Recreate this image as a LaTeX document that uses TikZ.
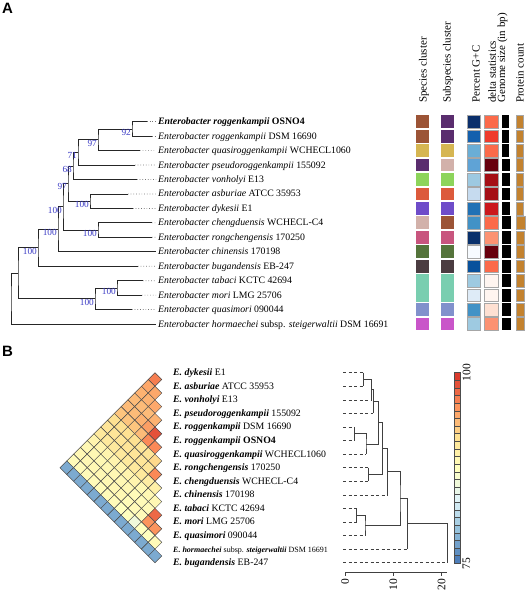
\documentclass[tikz,border=0pt]{standalone}
\usepackage{fontspec}
\setmainfont{Liberation Serif}
\newfontfamily\panelfont{Liberation Sans}
\usepackage{xcolor}
\usepackage{tikz}
\usetikzlibrary{calc}
\definecolor{bootBlue}{HTML}{3A3AC4}
\definecolor{cBrown}{HTML}{9C5436}
\definecolor{cPurple}{HTML}{5A2D6E}
\definecolor{cGold}{HTML}{D6B652}
\definecolor{cPink}{HTML}{D2B1AA}
\definecolor{cGreen}{HTML}{8DD45B}
\definecolor{cOrange}{HTML}{DC5A3C}
\definecolor{cViolet}{HTML}{6E4CC9}
\definecolor{cRose}{HTML}{C8557E}
\definecolor{cOlive}{HTML}{55743B}
\definecolor{cDark}{HTML}{4B3C41}
\definecolor{cTeal}{HTML}{79CEB0}
\definecolor{cLav}{HTML}{8191CC}
\definecolor{cMag}{HTML}{C955C9}
\definecolor{protBar}{HTML}{C3822F}
% heat palette (blue -> red)
\definecolor{hm0}{HTML}{4575B4}
\definecolor{hm1}{HTML}{91BFDB}
\definecolor{hm2}{HTML}{E0F3F8}
\definecolor{hm3}{HTML}{FFFFBF}
\definecolor{hm4}{HTML}{FEE090}
\definecolor{hm5}{HTML}{FC8D59}
\definecolor{hm6}{HTML}{D73027}
\newcommand{\setheat}[1]{%
  \pgfmathsetmacro\heatt{(#1-75)*6/25}%
  \pgfmathtruncatemacro\heatk{min(5,floor(\heatt))}%
  \pgfmathtruncatemacro\heatp{round((\heatt-\heatk)*100)}%
  \pgfmathtruncatemacro\heatn{\heatk+1}%
  \colorlet{heatc}{hm\heatn!\heatp!hm\heatk}}

\begin{document}
\begin{tikzpicture}[
    x=1pt, y=-1pt,
    every node/.style={font=\fontsize{9.8}{11}\selectfont, inner sep=0pt},
    tiplab/.style={anchor=west, text height=7pt, text depth=1pt},
    branch/.style={draw=black!85, line width=0.8pt},
    leader/.style={draw=black!55, dotted, line width=0.7pt},
    boot/.style={anchor=north east, text=bootBlue, xshift=-1pt,
        font=\fontsize{9.3}{10}\selectfont},
    colhead/.style={rotate=90, anchor=west, font=\fontsize{11}{12}\selectfont},
    tile/.style={draw=black!35, line width=0.4pt},
    cell/.style={draw=black!70, line width=0.45pt},
    dendro/.style={draw=black!75, line width=0.7pt},
    leafdash/.style={draw=black!75, dash pattern=on 3pt off 2.5pt, line width=0.6pt},
    axlab/.style={rotate=90, font=\fontsize{11.5}{12}\selectfont},
    panel/.style={anchor=north west, font=\panelfont\bfseries\fontsize{15}{16}\selectfont}
]
\useasboundingbox (0,0) rectangle (526,600);

\node[panel] (lblA) at (2,3) {A};
\node[panel] (lblB) at (2,346) {B};

%% panel A: tree
\foreach \k/\tx in {1/147,2/152,3/140,4/135,5/137,6/128,7/133,8/152,
    9/152,10/156,11/138,12/143,13/142,14/132,15/156}
    \coordinate (t\k) at (\tx,{121.7+(\k-1)*14.45});

\coordinate (n92) at (132,128.9);
\coordinate (n97a) at (98,139.75);
\coordinate (n71) at (78,152.4);
\coordinate (n68) at (73,165.95);
\coordinate (nAD) at (90,201.2);
\coordinate (n97b) at (68,183.6);
\coordinate (nCR) at (98,230.1);
\coordinate (nP) at (63,206.8);
\coordinate (nQ) at (58,229.3);
\coordinate (nS) at (38,247.75);
\coordinate (nTM) at (117,287.9);
\coordinate (nTQ) at (95,298.7);
\coordinate (nT) at (18,273.2);
\coordinate (nR) at (11,298.6);

\draw[branch] (t1) -| (n92) |- (t2);
\draw[branch] (n92) -| (n97a) |- (t3);
\draw[branch] (n97a) -| (n71) |- (t4);
\draw[branch] (n71) -| (n68) |- (t5);
\draw[branch] (t6) -| (nAD) |- (t7);
\draw[branch] (n68) -| (n97b) |- (nAD);
\draw[branch] (t8) -| (nCR) |- (t9);
\draw[branch] (n97b) -| (nP) |- (nCR);
\draw[branch] (nP) -| (nQ) |- (t10);
\draw[branch] (nQ) -| (nS) |- (t11);
\draw[branch] (t12) -| (nTM) |- (t13);
\draw[branch] (nTM) -| (nTQ) |- (t14);
\draw[branch] (nS) -| (nT) |- (nTQ);
\draw[branch] (nT) -| (nR) |- (t15);

\node[boot] (bs1) at (n92) {92};
\node[boot] (bs2) at (n97a) {97};
\node[boot] (bs3) at (n71) {71};
\node[boot] (bs4) at (n68) {68};
\node[boot] (bs5) at (n97b) {97};
\node[boot] (bs6) at (nAD) {100};
\node[boot] (bs7) at (nP) {100};
\node[boot] (bs8) at (nCR) {100};
\node[boot] (bs9) at (nQ) {100};
\node[boot] (bs10) at (nS) {100};
\node[boot] (bs11) at (nTM) {100};
\node[boot] (bs12) at (nTQ) {100};

\node[tiplab] (a1) at (158,121.7) {\textbf{\textit{Enterobacter roggenkampii} OSNO4}};
\node[tiplab] (a2) at (158,136.15) {\textit{Enterobacter roggenkampii} DSM 16690};
\node[tiplab] (a3) at (158,150.6) {\textit{Enterobacter quasiroggenkampii} WCHECL1060};
\node[tiplab] (a4) at (158,165.05) {\textit{Enterobacter pseudoroggenkampii} 155092};
\node[tiplab] (a5) at (158,179.5) {\textit{Enterobacter vonholyi} E13};
\node[tiplab] (a6) at (158,193.95) {\textit{Enterobacter asburiae} ATCC 35953};
\node[tiplab] (a7) at (158,208.4) {\textit{Enterobacter dykesii} E1};
\node[tiplab] (a8) at (158,222.85) {\textit{Enterobacter chengduensis} WCHECL-C4};
\node[tiplab] (a9) at (158,237.3) {\textit{Enterobacter rongchengensis} 170250};
\node[tiplab] (a10) at (158,251.75) {\textit{Enterobacter chinensis} 170198};
\node[tiplab] (a11) at (158,266.2) {\textit{Enterobacter bugandensis} EB-247};
\node[tiplab] (a12) at (158,280.65) {\textit{Enterobacter tabaci} KCTC 42694};
\node[tiplab] (a13) at (158,295.1) {\textit{Enterobacter mori} LMG 25706};
\node[tiplab] (a14) at (158,309.55) {\textit{Enterobacter quasimori} 090044};
\node[tiplab] (a15) at (158,324) {\textit{Enterobacter hormaechei} subsp. \textit{steigerwaltii} DSM 16691};

\foreach \k in {1,...,9,11,12,13,14}
    \draw[leader] (t\k) -- ([xshift=-2pt]a\k.west);

%% panel A: annotation columns
\node[colhead] (h1) at (424,103) {Species cluster};
\node[colhead] (h2) at (448,103) {Subspecies cluster};
\node[colhead] (h3) at (476,103) {Percent G+C};
\node[colhead] (h4) at (492,103) {delta statistics};
\node[colhead] (h5) at (502.5,103) {Genome size (in bp)};
\node[colhead] (h6) at (520,103) {Protein count};

\foreach \k/\ca/\cb/\gc/\dl/\we/\wf in {
    1/cBrown/cPurple/0B2F6B/FB6A4A/7.2/7.5,
    2/cBrown/cPurple/1460AD/EF3B2C/7.2/7.5,
    3/cGold/cGold/6AAED6/FB6A4A/7.2/7.5,
    4/cPurple/cPink/5FA3D6/67000D/7.5/7.5,
    5/cGreen/cGreen/9DC9E1/A50F15/7.5/7.3,
    6/cOrange/cOrange/C6DBEF/A50F15/7.5/7.5,
    7/cViolet/cViolet/2171B5/CB181D/7.5/7.0,
    8/cPink/cBrown/4292C6/FB6A4A/9.0/9.5,
    9/cRose/cRose/08306B/FC9272/8.5/8.5,
    10/cOlive/cOlive/F7FBFF/67000D/8.5/8.5,
    11/cDark/cDark/08519C/FB6A4A/8.5/8.5,
    12/cTeal/cTeal/9ECAE1/FFF5F0/8.5/8.5,
    13/cTeal/cTeal/DEEBF7/FFF5F0/8.5/8.5,
    14/cLav/cLav/4292C6/FEE0D2/8.5/8.5,
    15/cMag/cMag/9ECAE1/FC9272/8.5/8.5}{
    \pgfmathsetmacro\yy{121.7+(\k-1)*14.45}
    \definecolor{tmpgc}{HTML}{\gc}
    \definecolor{tmpdl}{HTML}{\dl}
    \fill[\ca] (415.7,{\yy-6.4}) rectangle (429,{\yy+6.4});
    \fill[\cb] (441,{\yy-6.4}) rectangle (454.3,{\yy+6.4});
    \filldraw[tile, fill=tmpgc] (467.3,{\yy-6.4}) rectangle (480,{\yy+6.4});
    \filldraw[tile, fill=tmpdl] (484.3,{\yy-6.4}) rectangle (497.7,{\yy+6.4});
    \fill[black] (502,{\yy-6.4}) rectangle ({502+\we},{\yy+6.4});
    \filldraw[tile, fill=protBar] (515.7,{\yy-6.4}) rectangle ({515.7+\wf},{\yy+6.4});
}
\fill[cTeal] (415.7,286) rectangle (429,290);
\fill[cTeal] (441,286) rectangle (454.3,290);

%% panel B: heatmap
\foreach \row [count=\i] in {
    {96.5,94.5,94,93.5,93.5,93,91.5,91,90.5,89,88.5,88.5,88,78},
    {94.5,94,93.5,93.5,93,91.5,91,90.5,89,88.5,88.5,88,78},
    {94.5,93.5,94,93,91.5,91,90.5,89,88.5,88.5,88,78},
    {94,95,93.5,91.5,91,90.5,89,88.5,88.5,88,78},
    {98.5,96,91,91,90.5,89,88.5,88.5,88,78},
    {96,91,91,90.5,89,88.5,88.5,88,78},
    {92,91,90.5,89,88.5,88.5,88,78},
    {96,90,88.5,88,88,87.5,78},
    {89.5,88.5,88,88,87.5,78},
    {88.5,88,88,85.5,78},
    {97.5,95.5,87.5,78},
    {95.5,87.5,78},
    {88,78},
    {78}}{
    \foreach \v [count=\jj] in \row {
        \setheat{\v}
        \pgfmathsetmacro\cx{155-(\jj-1)*6.785}
        \pgfmathsetmacro\cy{372.7+(2*\i+\jj-2)*6.785}
        \filldraw[cell, fill=heatc] ({\cx-6.785},\cy) -- (\cx,{\cy-6.785})
            -- ({\cx+6.785},\cy) -- (\cx,{\cy+6.785}) -- cycle;
    }
}

\node[tiplab] (b1) at (173,372.7) {\textbf{\textit{E. dykesii}} E1};
\node[tiplab] (b2) at (173,386.27) {\textbf{\textit{E. asburiae}} ATCC 35953};
\node[tiplab] (b3) at (173,399.84) {\textbf{\textit{E. vonholyi}} E13};
\node[tiplab] (b4) at (173,413.41) {\textbf{\textit{E. pseudoroggenkampii}} 155092};
\node[tiplab] (b5) at (173,426.98) {\textbf{\textit{E. roggenkampii}} DSM 16690};
\node[tiplab] (b6) at (173,440.55) {\textbf{\textit{E. roggenkampii} OSNO4}};
\node[tiplab] (b7) at (173,454.12) {\textbf{\textit{E. quasiroggenkampii}} WCHECL1060};
\node[tiplab] (b8) at (173,467.69) {\textbf{\textit{E. rongchengensis}} 170250};
\node[tiplab] (b9) at (173,481.26) {\textbf{\textit{E. chengduensis}} WCHECL-C4};
\node[tiplab] (b10) at (173,494.83) {\textbf{\textit{E. chinensis}} 170198};
\node[tiplab] (b11) at (173,508.4) {\textbf{\textit{E. tabaci}} KCTC 42694};
\node[tiplab] (b12) at (173,521.97) {\textbf{\textit{E. mori}} LMG 25706};
\node[tiplab] (b13) at (173,535.54) {\textbf{\textit{E. quasimori}} 090044};
\node[tiplab, font=\fontsize{8}{9}\selectfont] (b14) at (173,549.11)
    {\textbf{\textit{E. hormaechei}} subsp. \textbf{\textit{steigerwaltii}} DSM 16691};
\node[tiplab] (b15) at (173,562.68) {\textbf{\textit{E. bugandensis}} EB-247};

%% panel B: dendrogram
\foreach \k/\jx in {1/363.3,2/363.3,3/371.7,4/373.3,5/354.3,6/354.3,7/366,
    8/368.3,9/368.3,10/387.3,11/356.7,12/356.7,13/365,14/407.7,15/447.3}{
    \coordinate (d\k) at (343,{372.7+(\k-1)*13.57});
    \coordinate (e\k) at (\jx,{372.7+(\k-1)*13.57});
    \draw[leafdash] (d\k) -- (e\k);
}
\coordinate (m12) at (363.3,379.5);
\coordinate (m123) at (371.7,389.7);
\coordinate (m1234) at (373.3,401.6);
\coordinate (m56) at (354.3,433.8);
\coordinate (m567) at (366,443.9);
\coordinate (mA) at (378.3,422.8);
\coordinate (m89) at (368.3,474.5);
\coordinate (mB) at (382.7,448.6);
\coordinate (mC) at (387.3,471.7);
\coordinate (m1112) at (356.7,515.2);
\coordinate (mD) at (365,525.4);
\coordinate (mE) at (400,498.5);
\coordinate (mF) at (407.7,523.8);
\coordinate (mG) at (447.3,543.2);

\draw[dendro] (e1) -| (m12) |- (e2);
\draw[dendro] (m12) -| (m123) |- (e3);
\draw[dendro] (m123) -| (m1234) |- (e4);
\draw[dendro] (e5) -| (m56) |- (e6);
\draw[dendro] (m56) -| (m567) |- (e7);
\draw[dendro] (m1234) -| (mA) |- (m567);
\draw[dendro] (e8) -| (m89) |- (e9);
\draw[dendro] (mA) -| (mB) |- (m89);
\draw[dendro] (mB) -| (mC) |- (e10);
\draw[dendro] (e11) -| (m1112) |- (e12);
\draw[dendro] (m1112) -| (mD) |- (e13);
\draw[dendro] (mC) -| (mE) |- (mD);
\draw[dendro] (mE) -| (mF) |- (e14);
\draw[dendro] (mF) -| (mG) |- (e15);

% distance axis
\coordinate (ax0) at (345,572);
\coordinate (ax10) at (393.3,572);
\coordinate (ax20) at (441.7,572);
\coordinate (axEnd) at (447,572);
\draw[dendro] (ax0) -- (axEnd);
\foreach \t/\lab in {ax0/0,ax10/10,ax20/20}{
    \draw[dendro] (\t) -- ++(0,4);
    \node[axlab, anchor=east] (lab\t) at ($(\t)+(0,7)$) {\lab};
}

% colour key
\foreach \b in {0,...,24}{
    \setheat{75.5+\b}
    \filldraw[cell, fill=heatc] (454.3,{563.3-\b*7.624}) rectangle (460.7,{563.3-(\b+1)*7.624});
}
\node[axlab, anchor=north] (key100) at (462.5,372.7) {100};
\node[axlab, anchor=north] (key75) at (462.5,563.3) {75};

\end{tikzpicture}
\end{document}
